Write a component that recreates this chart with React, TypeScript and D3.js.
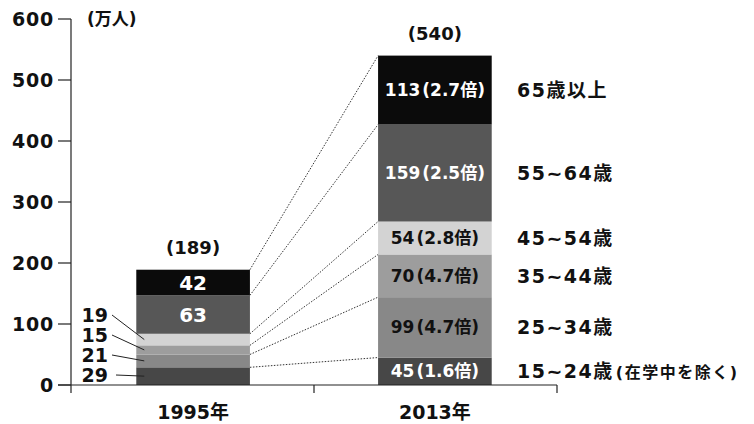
import React from 'react';
import * as d3 from 'd3';

const years = ['1995年', '2013年'];
const ageGroups = ['15~24歳', '25~34歳', '35~44歳', '45~54歳', '55~64歳', '65歳以上'];
const values1995 = [29, 21, 15, 19, 63, 42];
const values2013 = [45, 99, 70, 54, 159, 113];
const ratios2013 = ['1.6', '4.7', '4.7', '2.8', '2.5', '2.7'];
const totals = [189, 540];
const yTicks = [0, 100, 200, 300, 400, 500, 600];

const fills = ['#474747', '#888888', '#9d9d9d', '#d3d3d3', '#575757', '#0b0b0b'];
const inkIn2013 = ['#fff', '#111', '#111', '#111', '#fff', '#fff'];

const FONT = "'DejaVu Sans', 'Noto Sans CJK JP', sans-serif";
const W = 754;
const H = 424;

export default function App() {
  const y = d3.scaleLinear().domain([0, 600]).range([385, 19]);
  const x = d3
    .scaleBand<string>()
    .domain(years)
    .range([71, 557])
    .paddingInner(0.53)
    .paddingOuter(0.27);
  const bw = x.bandwidth();

  const rows = years.map((yr, i) => {
    const row: Record<string, any> = { year: yr };
    ageGroups.forEach((g, k) => {
      row[g] = i === 0 ? values1995[k] : values2013[k];
    });
    return row;
  });
  const series = d3.stack<any>().keys(ageGroups)(rows);

  const x0 = x(years[0])!;
  const x1 = x(years[1])!;
  const divider = x1 - (x.step() * x.paddingInner()) / 2;

  return (
    <svg
      width={W}
      height={H}
      style={{ position: 'absolute', left: 0, top: 0, background: '#fff' }}
      fontFamily={FONT}
      fontWeight="bold"
    >
      {/* bars */}
      {series.map((s, k) =>
        s.map((d, i) => (
          <rect
            key={k + '-' + i}
            x={x(years[i])}
            y={y(d[1])}
            width={bw}
            height={y(d[0]) - y(d[1])}
            fill={fills[k]}
          />
        )),
      )}

      {/* dotted connectors */}
      {series.map((s, k) => (
        <line
          key={'c' + k}
          x1={x0 + bw}
          y1={y(s[0][1])}
          x2={x1}
          y2={y(s[1][1])}
          stroke="#333"
          strokeWidth={1}
          strokeDasharray="1.5,1.5"
        />
      ))}

      {/* y axis */}
      <line x1={71} x2={71} y1={y(600)} y2={393} stroke="#222" strokeWidth={1.2} />
      {yTicks.map(t => (
        <g key={t}>
          <line x1={58} x2={71} y1={y(t)} y2={y(t)} stroke="#222" strokeWidth={1.2} />
          <text
            x={54}
            y={y(t)}
            dy="0.36em"
            textAnchor="end"
            fontSize={19}
            letterSpacing={0.8}
            fill="#111"
          >
            {t}
          </text>
        </g>
      ))}
      <text x={87} y={y(600)} dy="0.36em" fontSize={17} fill="#111">
        (万人)
      </text>

      {/* x axis */}
      <line x1={58} x2={557} y1={y(0)} y2={y(0)} stroke="#222" strokeWidth={1.2} />
      <line x1={divider} x2={divider} y1={y(0)} y2={393} stroke="#222" strokeWidth={1.2} />
      <line x1={557} x2={557} y1={y(0)} y2={393} stroke="#222" strokeWidth={1.2} />
      {years.map(yr => (
        <text
          key={yr}
          x={x(yr)! + bw / 2}
          y={412}
          dy="0.36em"
          textAnchor="middle"
          fontSize={19}
          fill="#111"
        >
          {yr}
        </text>
      ))}

      {/* totals */}
      {years.map((yr, i) => (
        <text
          key={'t' + yr}
          x={x(yr)! + bw / 2}
          y={y(totals[i]) - 22}
          dy="0.36em"
          textAnchor="middle"
          fontSize={18}
          fill="#111"
        >
          ({totals[i]})
        </text>
      ))}

      {/* 1995 labels inside (large segments) */}
      {series.map((s, k) =>
        k >= 4 ? (
          <text
            key={'a' + k}
            x={x0 + bw / 2}
            y={y((s[0][0] + s[0][1]) / 2)}
            dy="0.36em"
            textAnchor="middle"
            fontSize={20}
            fill="#fff"
          >
            {values1995[k]}
          </text>
        ) : null,
      )}

      {/* 1995 labels outside with leader lines */}
      {series.slice(0, 4).map((s, k) => {
        const ly = 375 - k * 20;
        return (
          <g key={'o' + k}>
            <text x={108} y={ly} dy="0.36em" textAnchor="end" fontSize={19} fill="#111">
              {values1995[k]}
            </text>
            <line
              x1={k === 0 ? 116 : 112}
              y1={ly}
              x2={x0 + 8}
              y2={y((s[0][0] + s[0][1]) / 2)}
              stroke="#222"
              strokeWidth={1}
            />
          </g>
        );
      })}

      {/* 2013 labels */}
      {series.map((s, k) => (
        <text
          key={'b' + k}
          x={x1 + bw / 2}
          y={y((s[1][0] + s[1][1]) / 2)}
          dy="0.36em"
          textAnchor="middle"
          fontSize={17}
          fill={inkIn2013[k]}
        >
          {values2013[k]}
          <tspan dx={2}>({ratios2013[k]}倍)</tspan>
        </text>
      ))}

      {/* right-side group names */}
      {series.map((s, k) => (
        <text
          key={'g' + k}
          x={517}
          y={y((s[1][0] + s[1][1]) / 2)}
          dy="0.36em"
          fontSize={19}
          letterSpacing={1.5}
          fill="#111"
        >
          {ageGroups[k]}
          {k === 0 ? (
            <tspan fontSize={16} letterSpacing={1.5} dx={2}>
              (在学中を除く)
            </tspan>
          ) : null}
        </text>
      ))}
    </svg>
  );
}
